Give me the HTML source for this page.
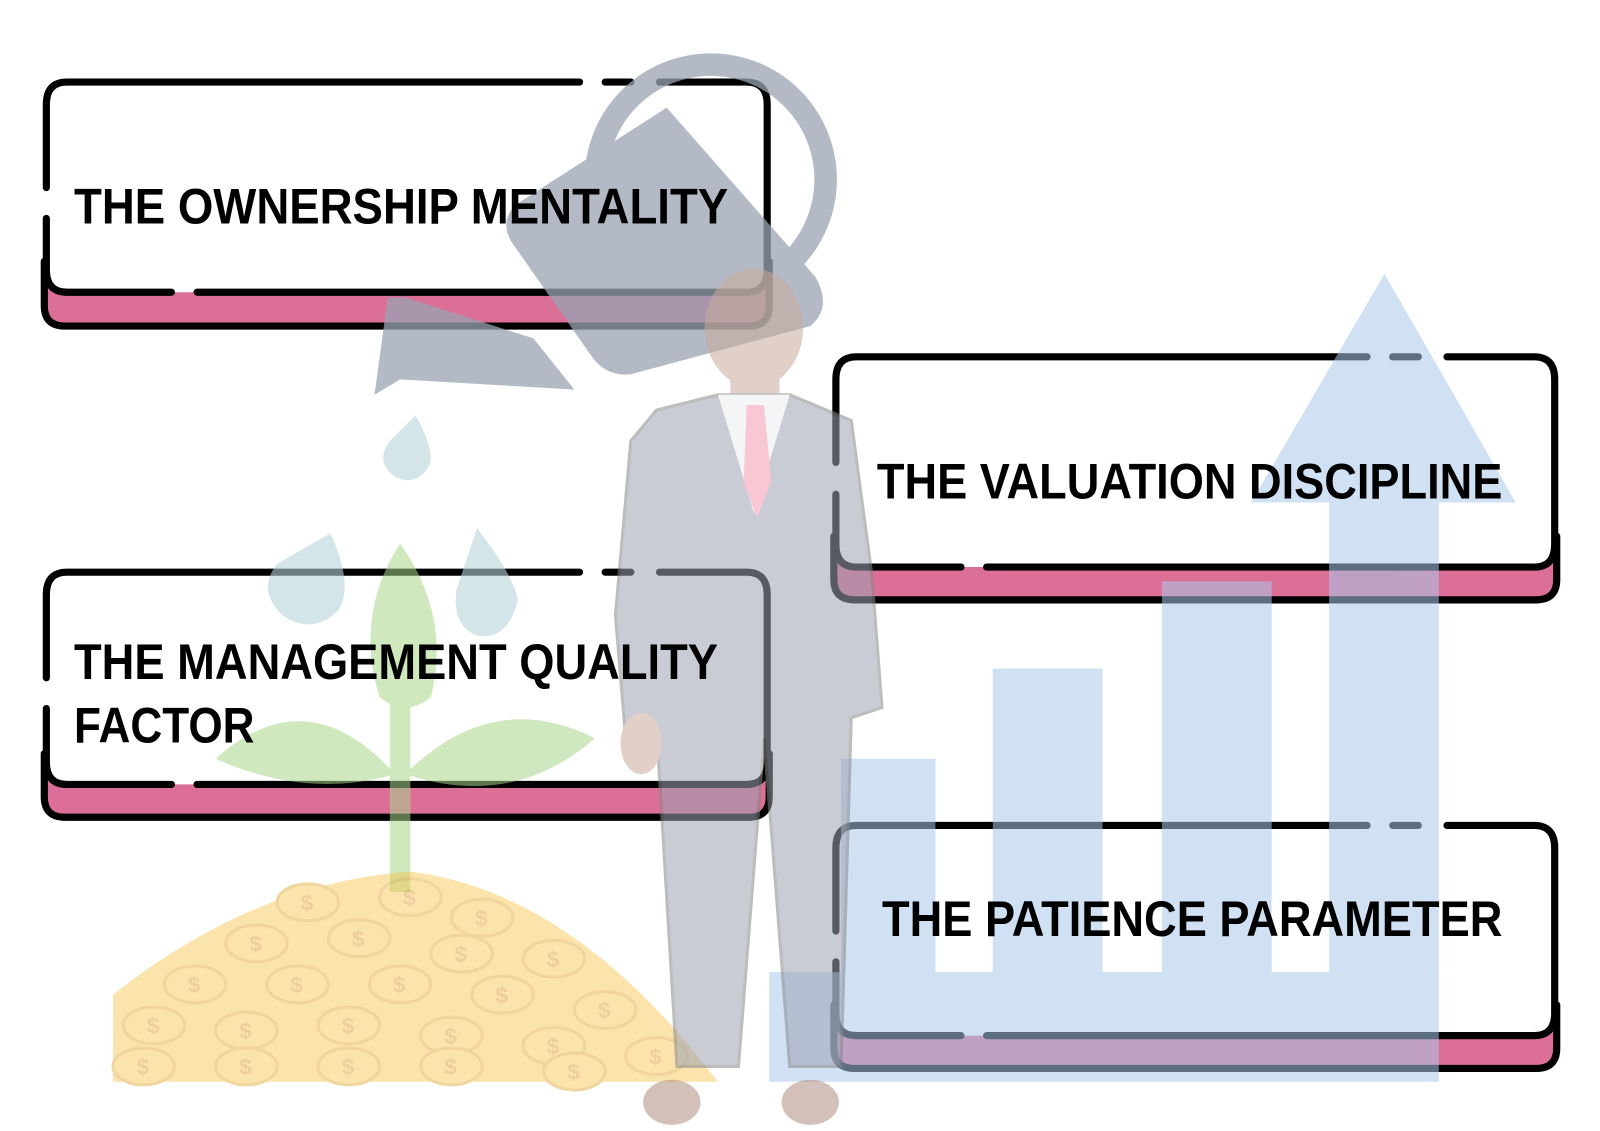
<!DOCTYPE html>
<html><head><meta charset="utf-8"><style>
html,body{margin:0;padding:0;background:#fff;}
svg{display:block;}
text{font-family:"Liberation Sans",Arial,sans-serif;font-weight:bold;fill:#000;}
</style></head><body>
<svg width="1600" height="1131" viewBox="0 0 1560 1103" xmlns="http://www.w3.org/2000/svg">
<defs>
<g id="coin"><ellipse cx="0" cy="0" rx="30" ry="18" fill="#f6c44a" stroke="#e0a52a" stroke-width="3"/><text x="-7" y="8" font-size="22" style="fill:#d9962a">$</text></g>
</defs>

<g stroke="#000" stroke-width="7" stroke-linecap="round" fill="none">
  <path d="M43 255 V298 Q43 318 63 318 H730 Q750 318 750 298 V255 Z" fill="#dc6f97" stroke="none"/>
  <rect x="43" y="80" width="707" height="205" rx="22" fill="#fff" stroke="none"/>
  <path d="M43 255 V298 Q43 318 63 318 H730 Q750 318 750 298 V255"/>
  <path d="M565 80 H65 Q45 80 45 102 V183"/>
  <path d="M590 80 H615"/>
  <path d="M643 80 H728 Q748 80 748 102 V263 Q748 285 728 285 H192"/>
  <path d="M167 285 H65 Q45 285 45 263 V213"/>
  <path d="M43 735 V777 Q43 797 63 797 H730 Q750 797 750 777 V735 Z" fill="#dc6f97" stroke="none"/>
  <rect x="43" y="558" width="707" height="207" rx="22" fill="#fff" stroke="none"/>
  <path d="M43 735 V777 Q43 797 63 797 H730 Q750 797 750 777 V735"/>
  <path d="M565 558 H65 Q45 558 45 580 V661"/>
  <path d="M590 558 H615"/>
  <path d="M643 558 H728 Q748 558 748 580 V743 Q748 765 728 765 H192"/>
  <path d="M167 765 H65 Q45 765 45 743 V691"/>
  <path d="M813 523 V565 Q813 585 833 585 H1498 Q1518 585 1518 565 V523 Z" fill="#dc6f97" stroke="none"/>
  <rect x="813" y="348" width="705" height="205" rx="22" fill="#fff" stroke="none"/>
  <path d="M813 523 V565 Q813 585 833 585 H1498 Q1518 585 1518 565 V523"/>
  <path d="M1333 348 H835 Q815 348 815 370 V451"/>
  <path d="M1358 348 H1383"/>
  <path d="M1411 348 H1496 Q1516 348 1516 370 V531 Q1516 553 1496 553 H962"/>
  <path d="M937 553 H835 Q815 553 815 531 V482"/>
  <path d="M813 980 V1022 Q813 1042 833 1042 H1498 Q1518 1042 1518 1022 V980 Z" fill="#dc6f97" stroke="none"/>
  <rect x="813" y="805" width="705" height="205" rx="22" fill="#fff" stroke="none"/>
  <path d="M813 980 V1022 Q813 1042 833 1042 H1498 Q1518 1042 1518 1022 V980"/>
  <path d="M1333 805 H835 Q815 805 815 827 V908"/>
  <path d="M1358 805 H1383"/>
  <path d="M1411 805 H1496 Q1516 805 1516 827 V988 Q1516 1010 1496 1010 H962"/>
  <path d="M937 1010 H835 Q815 1010 815 988 V938"/>
</g>

<g fill="#a9c9ea" opacity="0.55">
  <rect x="820" y="740" width="92" height="210"/>
  <rect x="968" y="652" width="107" height="298"/>
  <rect x="1133" y="567" width="107" height="383"/>
  <rect x="750" y="948" width="653" height="107"/>
  <rect x="1296" y="488" width="107" height="460"/>
  <polygon points="1350,267 1478,490 1220,490"/>
</g>
<g opacity="0.75">
  <circle cx="693" cy="175" r="112" fill="none" stroke="#9aa4b3" stroke-width="22"/>
  <path d="M650 105 L795 270 Q812 300 790 318 L615 365 Q590 368 575 345 L498 235 Q485 210 510 195 Z" fill="#9aa4b3"/>
  <path d="M378 290 L395 290 L520 330 L560 380 L390 370 L365 385 Z" fill="#9aa4b3"/>
</g>
<g fill="#b8d4dc" opacity="0.6">
  <path d="M405 405 Q425 440 418 455 Q405 475 385 465 Q365 450 380 430 Z"/>
  <path d="M322 520 Q345 570 330 595 Q305 620 275 600 Q250 575 270 550 Z"/>
  <path d="M465 515 Q500 560 505 585 Q495 625 465 620 Q440 610 445 575 Z"/>
</g>
<g opacity="0.55">
  <rect x="380" y="580" width="20" height="290" fill="#a9d68a"/>
  <path d="M390 530 Q440 600 420 680 Q395 700 370 680 Q345 600 390 530 Z" fill="#a9d68a"/>
  <path d="M385 755 Q300 660 210 740 Q300 780 385 755 Z" fill="#a9d68a"/>
  <path d="M395 755 Q480 670 580 720 Q500 790 395 755 Z" fill="#a9d68a"/>
</g>
<g opacity="0.45">
  <path d="M110 1055 L110 970 Q250 860 400 850 Q560 870 700 1055 Z" fill="#f6c44a"/>
  <use href="#coin" x="300" y="880"/><use href="#coin" x="400" y="875"/><use href="#coin" x="470" y="895"/>
  <use href="#coin" x="250" y="920"/><use href="#coin" x="350" y="915"/><use href="#coin" x="450" y="930"/><use href="#coin" x="540" y="935"/>
  <use href="#coin" x="190" y="960"/><use href="#coin" x="290" y="960"/><use href="#coin" x="390" y="960"/><use href="#coin" x="490" y="970"/><use href="#coin" x="590" y="985"/>
  <use href="#coin" x="150" y="1000"/><use href="#coin" x="240" y="1005"/><use href="#coin" x="340" y="1000"/><use href="#coin" x="440" y="1010"/><use href="#coin" x="540" y="1020"/><use href="#coin" x="640" y="1030"/>
  <use href="#coin" x="140" y="1040"/><use href="#coin" x="240" y="1040"/><use href="#coin" x="340" y="1040"/><use href="#coin" x="440" y="1040"/><use href="#coin" x="560" y="1045"/>
</g>
<g opacity="0.55">
  <ellipse cx="735" cy="320" rx="48" ry="58" fill="#c8aa9b"/>
  <rect x="712" y="360" width="48" height="40" fill="#c8aa9b"/>
  <path d="M640 400 L700 385 L770 385 L830 410 L850 560 L860 690 L830 700 L820 1040 L770 1040 L745 720 L720 1040 L660 1040 L640 710 L610 720 L600 600 L615 430 Z" fill="#9ea3b4" stroke="#888" stroke-width="3"/>
  <path d="M700 385 L735 500 L770 385 Z" fill="#ecedf1"/>
  <path d="M728 395 L745 395 L752 470 L738 505 L725 470 Z" fill="#f49ab0"/>
  <ellipse cx="625" cy="725" rx="20" ry="30" fill="#c8aa9b"/>
  <ellipse cx="655" cy="1075" rx="28" ry="22" fill="#b09080"/>
  <ellipse cx="790" cy="1075" rx="28" ry="22" fill="#b09080"/>
</g>

<text x="72" y="218" font-size="49" textLength="638" lengthAdjust="spacingAndGlyphs">THE OWNERSHIP MENTALITY</text>
<text x="72" y="662" font-size="49" textLength="628" lengthAdjust="spacingAndGlyphs">THE MANAGEMENT QUALITY</text>
<text x="72" y="724" font-size="49" textLength="176" lengthAdjust="spacingAndGlyphs">FACTOR</text>
<text x="855" y="486" font-size="49" textLength="610" lengthAdjust="spacingAndGlyphs">THE VALUATION DISCIPLINE</text>
<text x="860" y="913" font-size="49" textLength="605" lengthAdjust="spacingAndGlyphs">THE PATIENCE PARAMETER</text>
</svg>
</body></html>
